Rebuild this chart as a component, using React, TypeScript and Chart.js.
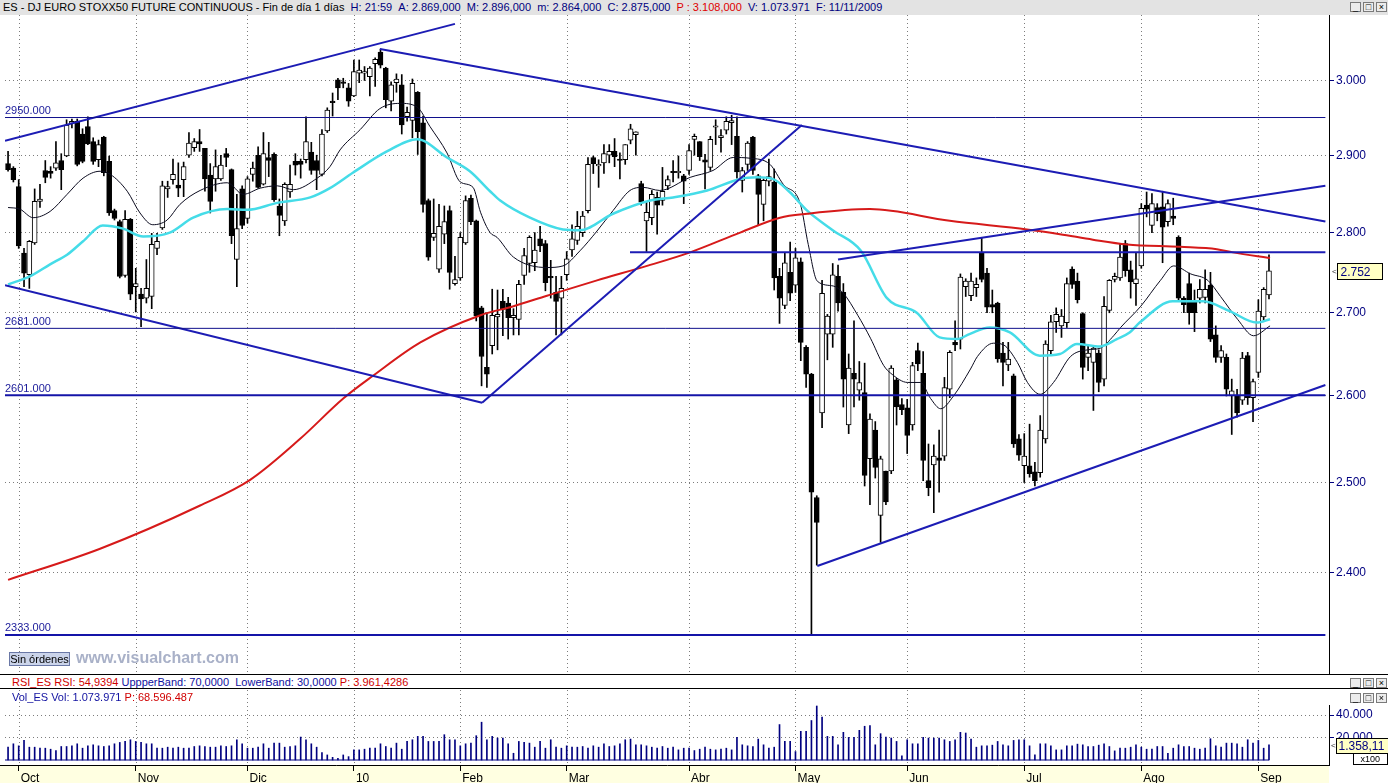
import React, { useEffect, useRef } from "react";
import { Chart, registerables } from "chart.js";

Chart.register(...registerables);
Chart.defaults.font.family = '"Liberation Sans", Arial, sans-serif';

// ---------------- DATA (daily bars 29-Sep-2009 .. 03-Sep-2010) ----------------
const opens = [
  2889, 2883,
  2859, 2774, 2747, 2787, 2840, 2880, 2879, 2883, 2893, 2899, 2942, 2945, 2928, 2938, 2918, 2894, 2924, 2892, 2828, 2814, 2746, 2817,
  2732, 2723, 2718, 2720, 2780, 2806, 2856, 2868, 2861, 2868, 2900, 2910, 2918, 2909, 2874, 2869, 2869, 2902, 2881, 2766, 2856,
  2818, 2875, 2900, 2862, 2897, 2901, 2834, 2815, 2852, 2892, 2892, 2894, 2904, 2893, 2875, 2932, 2972, 3001, 2998, 2990,
  2979, 3010, 3010, 3005, 3023, 3039, 3017, 2972, 2997, 2994, 2951, 2946, 2984, 2943, 2841, 2794, 2754, 2798, 2828, 2736,
  2743, 2787, 2844, 2815, 2706, 2634, 2660, 2695, 2714, 2712, 2694, 2692, 2746, 2761, 2762, 2792, 2786, 2745, 2725, 2718,
  2747, 2778, 2790, 2800, 2828, 2897, 2886, 2890, 2900, 2905, 2895, 2894, 2920, 2927, 2863, 2815, 2819, 2845, 2841, 2860, 2879, 2877, 2873,
  2880, 2921, 2918, 2894, 2884, 2937, 2923, 2933, 2943, 2925, 2867, 2888, 2924, 2873, 2836, 2866, 2865, 2745, 2709, 2750,
  2734, 2763, 2658, 2626, 2483, 2580, 2674, 2674, 2745, 2725, 2566, 2627, 2607, 2604, 2527, 2560, 2463, 2513, 2513, 2619, 2590,
  2586, 2566, 2654, 2627, 2502, 2520, 2528, 2530, 2608, 2664, 2668, 2732, 2721, 2731, 2774, 2749, 2710, 2712, 2651, 2637, 2624, 2550,
  2519, 2519, 2512, 2511, 2550, 2654, 2689, 2684, 2688, 2754, 2739, 2699, 2646, 2640, 2651, 2620, 2703, 2741, 2743, 2786, 2753, 2736,
  2758, 2835, 2809, 2832, 2833, 2814, 2821, 2794, 2718, 2736, 2714, 2718, 2719, 2734, 2673, 2646, 2646, 2600, 2600, 2595, 2648, 2598,
  2628, 2695, 2722,
];
const highs = [
  2905, 2885,
  2868, 2780, 2790, 2856, 2862, 2893, 2885, 2918, 2902, 2947, 2948, 2948, 2935, 2951, 2923, 2920, 2925, 2899, 2830, 2816, 2828, 2818,
  2755, 2730, 2766, 2799, 2799, 2866, 2866, 2895, 2890, 2891, 2930, 2922, 2934, 2909, 2889, 2907, 2900, 2909, 2882, 2849, 2860,
  2872, 2891, 2911, 2930, 2917, 2903, 2843, 2864, 2887, 2902, 2895, 2951, 2917, 2900, 2934, 2963, 2983, 3003, 3003, 2996,
  3028, 3028, 3019, 3019, 3031, 3043, 3018, 2998, 3009, 3008, 2964, 3002, 2985, 2952, 2843, 2843, 2836, 2834, 2834, 2770,
  2800, 2847, 2848, 2816, 2708, 2700, 2729, 2728, 2729, 2719, 2705, 2740, 2780, 2796, 2800, 2808, 2790, 2765, 2745, 2745,
  2776, 2810, 2827, 2827, 2897, 2899, 2894, 2914, 2914, 2922, 2903, 2914, 2941, 2931, 2866, 2839, 2854, 2852, 2884, 2873, 2893, 2899, 2875,
  2914, 2928, 2918, 2901, 2925, 2947, 2934, 2951, 2953, 2951, 2884, 2918, 2925, 2875, 2869, 2895, 2882, 2755, 2774, 2788,
  2780, 2768, 2660, 2627, 2485, 2740, 2698, 2761, 2759, 2736, 2650, 2690, 2641, 2639, 2579, 2570, 2530, 2513, 2636, 2621, 2597,
  2596, 2640, 2663, 2653, 2544, 2543, 2560, 2622, 2654, 2690, 2748, 2742, 2749, 2743, 2793, 2755, 2728, 2713, 2664, 2664, 2626, 2555,
  2556, 2567, 2523, 2577, 2666, 2697, 2706, 2704, 2743, 2757, 2749, 2700, 2660, 2660, 2655, 2720, 2741, 2749, 2785, 2790, 2764, 2774,
  2837, 2852, 2850, 2837, 2853, 2842, 2844, 2796, 2720, 2749, 2728, 2741, 2753, 2750, 2684, 2660, 2650, 2620, 2608, 2652, 2652, 2620,
  2716, 2731, 2772,
];
const lows = [
  2879, 2865,
  2780, 2732, 2730, 2785, 2832, 2864, 2870, 2880, 2855, 2898, 2936, 2886, 2890, 2914, 2888, 2885, 2873, 2822, 2816, 2743, 2744, 2716,
  2701, 2683, 2712, 2705, 2772, 2804, 2845, 2862, 2846, 2846, 2897, 2905, 2905, 2853, 2825, 2853, 2867, 2885, 2786, 2732, 2805,
  2812, 2866, 2857, 2861, 2872, 2840, 2796, 2809, 2845, 2874, 2870, 2890, 2875, 2855, 2873, 2930, 2952, 2974, 2990, 2965,
  2978, 2997, 3000, 2979, 2992, 3017, 2963, 2959, 2984, 2928, 2945, 2923, 2901, 2826, 2765, 2790, 2750, 2786, 2729, 2734,
  2740, 2785, 2810, 2690, 2612, 2610, 2650, 2655, 2672, 2668, 2673, 2673, 2735, 2750, 2752, 2776, 2727, 2718, 2673, 2673,
  2740, 2770, 2785, 2795, 2825, 2876, 2858, 2876, 2890, 2885, 2869, 2888, 2915, 2900, 2835, 2776, 2810, 2798, 2835, 2855, 2865, 2870, 2837,
  2875, 2900, 2893, 2856, 2880, 2914, 2904, 2928, 2914, 2870, 2852, 2880, 2875, 2810, 2815, 2860, 2728, 2687, 2705, 2715,
  2725, 2642, 2610, 2333, 2408, 2563, 2643, 2658, 2702, 2587, 2556, 2587, 2595, 2496, 2475, 2505, 2433, 2475, 2510, 2566, 2578,
  2533, 2560, 2630, 2502, 2485, 2466, 2489, 2525, 2598, 2654, 2656, 2720, 2715, 2720, 2738, 2700, 2700, 2640, 2612, 2630, 2540, 2525,
  2500, 2506, 2496, 2506, 2545, 2648, 2676, 2670, 2682, 2730, 2712, 2620, 2630, 2583, 2605, 2612, 2700, 2738, 2740, 2745, 2718, 2709,
  2755, 2820, 2800, 2815, 2762, 2808, 2810, 2715, 2700, 2686, 2677, 2712, 2712, 2665, 2640, 2640, 2600, 2555, 2575, 2590, 2590, 2570,
  2622, 2690, 2717,
];
const closes = [
  2881, 2868,
  2783, 2749, 2789, 2840, 2843, 2871, 2876, 2890, 2881, 2940, 2945, 2888, 2892, 2915, 2892, 2914, 2877, 2825, 2818, 2745, 2817, 2723,
  2736, 2717, 2730, 2785, 2789, 2860, 2859, 2875, 2857, 2885, 2916, 2918, 2915, 2869, 2840, 2885, 2887, 2897, 2796, 2805, 2809,
  2869, 2883, 2858, 2902, 2893, 2842, 2822, 2862, 2862, 2887, 2888, 2918, 2880, 2880, 2928, 2960, 2970, 2990, 2996, 2972,
  3012, 3014, 3012, 3017, 3029, 3021, 2974, 2994, 3002, 2940, 2957, 2996, 2931, 2836, 2769, 2799, 2808, 2814, 2750, 2741,
  2794, 2841, 2814, 2696, 2647, 2626, 2697, 2698, 2704, 2694, 2697, 2735, 2771, 2794, 2778, 2783, 2737, 2743, 2714, 2730,
  2767, 2792, 2808, 2821, 2888, 2889, 2888, 2902, 2905, 2898, 2893, 2914, 2935, 2931, 2839, 2826, 2849, 2835, 2853, 2868, 2877, 2879, 2866,
  2906, 2925, 2898, 2891, 2921, 2939, 2926, 2945, 2946, 2878, 2880, 2916, 2880, 2849, 2867, 2872, 2743, 2718, 2762, 2724,
  2768, 2664, 2626, 2489, 2455, 2724, 2696, 2747, 2712, 2620, 2633, 2620, 2616, 2508, 2573, 2517, 2527, 2478, 2633, 2587, 2584,
  2554, 2636, 2638, 2525, 2494, 2530, 2525, 2610, 2652, 2661, 2744, 2739, 2739, 2735, 2741, 2707, 2707, 2644, 2640, 2644, 2544, 2531,
  2530, 2510, 2502, 2560, 2662, 2689, 2698, 2696, 2736, 2735, 2716, 2634, 2651, 2657, 2616, 2708, 2740, 2745, 2769, 2752, 2738, 2742,
  2831, 2830, 2837, 2824, 2807, 2837, 2818, 2718, 2710, 2700, 2700, 2729, 2729, 2668, 2646, 2654, 2608, 2606, 2580, 2645, 2598, 2617,
  2702, 2729, 2752,
];
const volumes = [
  11400, 14400, 12600, 17400, 11400, 11400, 10500, 10500, 9600, 8400,
  12000, 12000, 12600, 14400, 10500, 12600, 13500, 12600, 12000, 12600,
  14400, 15600, 16500, 18000, 16500, 15600, 14400, 14400, 10500, 10500,
  11400, 10500, 11400, 10500, 10500, 12000, 12600, 12000, 11400, 11400,
  12600, 12000, 12600, 18000, 14400, 10500, 10500, 11400, 14400, 10500,
  15000, 15000, 11400, 12000, 12600, 20400, 18000, 14400, 11400, 6600,
  4500, 2400, 1500, 4500, 3000, 9000, 9000, 9600, 10500, 10500,
  14400, 12000, 10500, 15000, 9600, 16500, 18000, 21000, 21000, 16500,
  16500, 16500, 22500, 18000, 18000, 12600, 14400, 15000, 21600, 33600,
  18000, 21000, 19500, 19500, 14400, 6000, 16500, 15600, 15000, 11400,
  16500, 10500, 18000, 11400, 10500, 12600, 11400, 11400, 12000, 10500,
  12600, 11400, 14400, 12000, 12600, 14400, 18000, 18600, 13500, 13500,
  12600, 11400, 10500, 12000, 10500, 11400, 9000, 10500,
  10500, 8400, 9600, 11400, 9600, 9000, 9600, 10500, 9000, 20100,
  13500, 12600, 12000, 18600, 13500, 10500, 11400, 31500, 16500, 16500,
  7500, 25500, 25500, 35100, 48000, 38100, 21000, 21000, 13500, 24600,
  20100, 20100, 26400, 30000, 30600, 13500, 23400, 20400, 19500, 16500,
  3600, 18000, 14400, 14400, 20100, 19500, 19500, 19500, 18000, 16500,
  18000, 24600, 24000, 18600, 11400, 12600, 12600, 13200, 16500, 13500,
  12600, 17400, 18000, 18000, 12600, 4500, 14400, 14400, 12600, 9000,
  9000, 12600, 12600, 14100, 13500, 12000, 12000, 13200, 14400, 12000,
  8100, 10500, 10500, 11400, 13500, 11400, 9600, 9600, 12000, 12000,
  6000, 10500, 13500, 12000, 12000, 10500, 9600, 10500, 18900, 12600,
  11400, 15000, 15000, 14400, 11400, 18000, 15000, 17400, 10500, 13500,
];

// first bar index of each month and its label
const monthStarts = [2, 24, 45, 65, 85, 105, 128, 148, 169, 191, 213, 235];
const monthLabels = ["Oct", "Nov", "Dic", "10", "Feb", "Mar", "Abr", "May", "Jun", "Jul", "Ago", "Sep"];
const priceTicks = [2400, 2500, 2600, 2700, 2800, 2900, 3000];
const volTicks = [20000, 40000];

// moving averages (bar index, value)
const maSlowX = [0, 17.3, 36.1, 45.5, 54.9, 63, 68.6, 77.5, 88.8, 95, 101.3, 110.7, 120.1, 128.2, 137.6, 145.1, 150.2, 162, 177, 191.5, 197.7, 203.9, 210.3, 220.3, 227.2, 230.2, 237.2];
const maSlowY = [2392, 2426, 2474, 2503, 2550, 2597, 2624, 2664, 2697, 2708, 2721, 2740, 2758, 2775, 2800, 2819, 2824, 2830, 2815, 2804, 2798, 2791, 2785, 2782, 2779, 2775, 2768];
const maMidX = [0, 4.1, 7.9, 11.1, 14.1, 17.8, 21.6, 25.4, 30.4, 34.8, 41.2, 44.9, 50.6, 56.8, 60.5, 64.8, 71.2, 76.9, 82.5, 86.8, 90.6, 92.5, 98.1, 104.3, 107.5, 113.7, 120.7, 125, 131.4, 137.6, 140.8, 143.7, 146.9, 150.2, 155, 160.3, 165.2, 170.8, 175.1, 178.4, 180.7, 184.5, 188.3, 193.9, 197.7, 200.9, 205.2, 208.4, 210.8, 212.7, 218.9, 224.6, 229.6, 234.7, 237.2];
const maMidY = [2735, 2745, 2760, 2772, 2789, 2809, 2805, 2795, 2800, 2819, 2830, 2829, 2838, 2845, 2857, 2877, 2905, 2921, 2897, 2879, 2853, 2841, 2819, 2804, 2803, 2824, 2841, 2845, 2854, 2869, 2871, 2869, 2852, 2828, 2803, 2777, 2718, 2700, 2670, 2668, 2674, 2682, 2676, 2648, 2650, 2662, 2659, 2668, 2676, 2688, 2714, 2714, 2702, 2688, 2692];
const maFastX = [0, 2.2, 4.7, 7.9, 11.1, 14.1, 17.3, 19.2, 22.4, 24.8, 27.2, 29.9, 32.3, 36.1, 41.2, 44.2, 47.4, 50.6, 53.6, 58.1, 60.5, 62.4, 66.2, 69.9, 73.7, 76.9, 79.3, 82.5, 85, 87.4, 88.8, 90.6, 91.9, 95, 101.3, 104.3, 107.5, 110.7, 113.7, 116.9, 119.4, 122.5, 128.2, 132.5, 136.3, 139.5, 143.2, 145.7, 148.9, 150.4, 152.1, 155.1, 157, 159.7, 162.1, 164.6, 165.9, 169.1, 171.5, 173.4, 175.3, 177.7, 180.9, 182.2, 185.2, 187.1, 189.7, 191.6, 194, 196.5, 199.7, 202.9, 205.3, 207.8, 209.1, 212.9, 216.6, 219.1, 222.3, 225.5, 227.9, 231.1, 234.1, 237.2];
const maFastY = [2832, 2830, 2819, 2827, 2849, 2870, 2879, 2875, 2853, 2825, 2810, 2816, 2836, 2854, 2864, 2849, 2857, 2860, 2855, 2870, 2885, 2907, 2934, 2962, 2969, 2964, 2938, 2903, 2865, 2858, 2826, 2800, 2794, 2769, 2756, 2758, 2777, 2802, 2828, 2854, 2858, 2854, 2871, 2880, 2897, 2896, 2888, 2862, 2837, 2785, 2739, 2733, 2724, 2697, 2669, 2636, 2627, 2616, 2616, 2597, 2585, 2600, 2632, 2647, 2663, 2661, 2640, 2616, 2602, 2616, 2647, 2655, 2657, 2672, 2682, 2708, 2740, 2758, 2748, 2740, 2720, 2692, 2672, 2684];

// drawn horizontal levels and trend lines (x1 index, y1 price, x2 index, y2 price)
const levelValues = [2950, 2681, 2601, 2333];
const levelLabels = ["2950.000", "2681.000", "2601.000", "2333.000"];
const levelWidths = [1, 1, 2, 2];
const trendLines = [
  [-0.575, 2919, 84.0, 3078],
  [69.9, 3043, 247.6, 2814],
  [-0.575, 2734, 89.1, 2592],
  [89.1, 2592, 149.2, 2940],
  [116.9, 2775, 247.6, 2775],
  [156.0, 2766, 247.6, 2860],
  [152.1, 2407, 247.6, 2613],
];

// ---------------- AXIS RANGES ----------------
const X_MIN = -0.575;
const X_MAX = 248.28;
const LINE_END = 247.6;
const PRICE_MIN = 2292;
const PRICE_MAX = 3090.4;
const VOL_MIN = -4444;
const VOL_MAX = 48889;
const VOL_BOX_TEXT = "1.358,11";

const NAVY = "#000080";
const GRID = "#7c7c7c";
const TREND = "#1c1cb4";
const FONT = '"Liberation Sans", Arial, sans-serif';

const fmt = (v: number) => Math.round(v).toString().replace(/\B(?=(\d{3})+(?!\d))/g, ".");

function lineDs(points: any[], color: string, width: number, order: number, smooth = false) {
  return {
    type: "line",
    data: points,
    borderColor: color,
    borderWidth: width,
    pointRadius: 0,
    pointHoverRadius: 0,
    fill: false,
    tension: smooth ? 0.4 : 0,
    cubicInterpolationMode: smooth ? "monotone" : "default",
    order,
  };
}

// dotted vertical month separators drawn on the chart area through the x scale
function monthGrid(topOffset: number) {
  return {
    id: "monthGrid",
    beforeDatasetsDraw(chart: any) {
      const { ctx, chartArea } = chart;
      const x = chart.scales.x;
      ctx.save();
      ctx.strokeStyle = GRID;
      ctx.lineWidth = 1;
      ctx.setLineDash([1, 3]);
      monthStarts.forEach((v) => {
        const px = Math.round(x.getPixelForValue(v)) + 0.5;
        ctx.beginPath();
        ctx.moveTo(px, Math.max(0, chartArea.top - topOffset));
        ctx.lineTo(px, chartArea.bottom);
        ctx.stroke();
      });
      ctx.restore();
    },
  };
}

const mainDecor = {
  id: "mainDecor",
  afterDraw(chart: any) {
    const { ctx, chartArea } = chart;
    const y = chart.scales.y;
    ctx.save();
    ctx.font = `11px ${FONT}`;
    ctx.fillStyle = "#1a1a9a";
    ctx.textBaseline = "bottom";
    ctx.textAlign = "left";
    levelValues.forEach((v, k) => {
      ctx.fillText(levelLabels[k], chartArea.left, y.getPixelForValue(v) - 1);
    });
    // last price marker
    const last = closes[closes.length - 1];
    const py = Math.round(y.getPixelForValue(last)) + 0.5;
    const bx = chartArea.right + 8.5;
    ctx.fillStyle = "#ffffc4";
    ctx.fillRect(bx, py - 8, 45, 16);
    ctx.strokeStyle = "#000";
    ctx.lineWidth = 1;
    ctx.strokeRect(bx, py - 8, 45, 16);
    ctx.fillStyle = NAVY;
    ctx.font = `12px ${FONT}`;
    ctx.textBaseline = "middle";
    ctx.fillText(fmt(last), bx + 3, py + 1);
    ctx.font = `8px ${FONT}`;
    ctx.fillStyle = "#333";
    ctx.fillText("<", chartArea.right + 3, py);
    ctx.restore();
  },
};

const volDecor = {
  id: "volDecor",
  beforeDraw(chart: any) {
    const { ctx, chartArea } = chart;
    ctx.save();
    ctx.fillStyle = "#ffffe1";
    ctx.fillRect(0, chartArea.bottom, chartArea.right, chart.height - chartArea.bottom);
    ctx.strokeStyle = "#000";
    ctx.beginPath();
    ctx.moveTo(0, chartArea.bottom + 0.5);
    ctx.lineTo(chartArea.left, chartArea.bottom + 0.5);
    ctx.stroke();
    ctx.restore();
  },
  afterDraw(chart: any) {
    const { ctx, chartArea } = chart;
    const y = chart.scales.y;
    const last = volumes[volumes.length - 1];
    const py = Math.round(y.getPixelForValue(last)) + 0.5;
    const bx = chartArea.right + 7.5;
    ctx.save();
    ctx.fillStyle = "#ffffc4";
    ctx.fillRect(bx, py - 7, 52, 15);
    ctx.strokeStyle = "#000";
    ctx.lineWidth = 1;
    ctx.strokeRect(bx, py - 7, 52, 15);
    ctx.fillStyle = NAVY;
    ctx.font = `12px ${FONT}`;
    ctx.textBaseline = "middle";
    ctx.textAlign = "left";
    ctx.fillText(VOL_BOX_TEXT, bx + 2, py + 1);
    ctx.font = `8px ${FONT}`;
    ctx.fillStyle = "#333";
    ctx.fillText("<", chartArea.right + 2, py);
    // x100 box
    ctx.fillStyle = "#fff";
    ctx.fillRect(bx + 17, py + 8, 34, 11);
    ctx.strokeRect(bx + 17, py + 8, 34, 11);
    ctx.fillStyle = "#000";
    ctx.font = `9px ${FONT}`;
    ctx.fillText("x100", bx + 24, py + 14);
    ctx.restore();
  },
};

function MainChart() {
  const ref = useRef<HTMLCanvasElement | null>(null);
  useEffect(() => {
    const canvas = ref.current;
    if (!canvas) return;
    const idx = closes.map((_, i) => i);
    const datasets: any[] = [];
    levelValues.forEach((v, k) =>
      datasets.push(lineDs([{ x: X_MIN, y: v }, { x: LINE_END, y: v }], levelWidths[k] > 1 ? "#1414a8" : "#10108c", levelWidths[k], 0))
    );
    trendLines.forEach((t) => datasets.push(lineDs([{ x: t[0], y: t[1] }, { x: t[2], y: t[3] }], TREND, 2, 0)));
    datasets.push(lineDs(maSlowX.map((x, i) => ({ x, y: maSlowY[i] })), "#d61a1a", 2, 1, true));
    datasets.push(lineDs(maMidX.map((x, i) => ({ x, y: maMidY[i] })), "#45dce8", 2.5, 2, true));
    datasets.push(lineDs(maFastX.map((x, i) => ({ x, y: maFastY[i] })), "#0a0a1e", 1, 3, true));
    datasets.push({
      type: "bar",
      data: idx.map((i) => ({ x: i, y: [opens[i], closes[i]] })),
      backgroundColor: idx.map((i) => (closes[i] >= opens[i] ? "#ffffff" : "#000000")),
      borderColor: "#000000",
      borderWidth: 1,
      borderSkipped: false,
      barThickness: 5,
      grouped: false,
      minBarLength: 1,
      order: 8,
    });
    datasets.push({
      type: "bar",
      data: idx.map((i) => ({ x: i, y: [lows[i], highs[i]] })),
      backgroundColor: "#000000",
      borderWidth: 0,
      barThickness: 1,
      grouped: false,
      order: 9,
    });
    const chart = new Chart(canvas, {
      type: "bar",
      data: { datasets },
      options: {
        animation: false,
        responsive: false,
        maintainAspectRatio: false,
        devicePixelRatio: 1,
        events: [],
        layout: { padding: { left: 5, right: 0, top: 0, bottom: 0 } },
        plugins: { legend: { display: false }, tooltip: { enabled: false } },
        scales: {
          x: {
            type: "linear",
            min: X_MIN,
            max: X_MAX,
            offset: false,
            afterBuildTicks: (s: any) => {
              s.ticks = monthStarts.map((v) => ({ value: v }));
            },
            afterFit: (s: any) => {
              s.height = 0;
              s.paddingLeft = 0;
              s.paddingRight = 0;
            },
            ticks: { display: false },
            grid: { display: false },
            border: { display: false },
          },
          y: {
            type: "logarithmic",
            position: "right",
            min: PRICE_MIN,
            max: PRICE_MAX,
            afterBuildTicks: (s: any) => {
              s.ticks = priceTicks.map((v) => ({ value: v }));
            },
            afterFit: (s: any) => {
              s.width = 59;
              s.paddingTop = 0;
              s.paddingBottom = 0;
            },
            ticks: {
              callback: (v: any) => fmt(Number(v)),
              color: NAVY,
              font: { family: FONT, size: 12 },
              padding: 2,
              autoSkip: false,
            },
            grid: { color: GRID, tickColor: NAVY, tickLength: 5, tickBorderDash: [], drawTicks: true },
            border: { display: true, color: "#000", width: 1, dash: [1, 3] },
          },
        },
      } as any,
      plugins: [monthGrid(0), mainDecor],
    } as any);
    return () => chart.destroy();
  }, []);
  return (
    <canvas
      ref={ref}
      width={1388}
      height={659}
      style={{ position: "absolute", left: 0, top: 15, width: 1388, height: 659 }}
    />
  );
}

function VolumeChart() {
  const ref = useRef<HTMLCanvasElement | null>(null);
  useEffect(() => {
    const canvas = ref.current;
    if (!canvas) return;
    const chart = new Chart(canvas, {
      type: "bar",
      data: {
        datasets: [
          lineDs([{ x: X_MIN, y: 0 }, { x: volumes.length - 1, y: 0 }], NAVY, 1, 0),
          {
            type: "bar",
            data: volumes.map((v, i) => ({ x: i, y: v })),
            backgroundColor: NAVY,
            borderWidth: 0,
            barThickness: 1,
            grouped: false,
            order: 1,
          },
        ],
      },
      options: {
        animation: false,
        responsive: false,
        maintainAspectRatio: false,
        devicePixelRatio: 1,
        events: [],
        layout: { padding: { left: 5, right: 0, top: 16, bottom: 0 } },
        plugins: { legend: { display: false }, tooltip: { enabled: false } },
        scales: {
          x: {
            type: "linear",
            min: X_MIN,
            max: X_MAX,
            offset: false,
            afterBuildTicks: (s: any) => {
              s.ticks = monthStarts.map((v) => ({ value: v }));
            },
            afterFit: (s: any) => {
              s.height = 18;
              s.paddingLeft = 0;
              s.paddingRight = 0;
            },
            ticks: {
              callback: (_v: any, i: number) => monthLabels[i],
              align: "start",
              maxRotation: 0,
              minRotation: 0,
              autoSkip: false,
              color: "#000",
              font: { family: FONT, size: 12 },
              padding: 0,
              labelOffset: 2,
            },
            grid: { drawOnChartArea: false, color: GRID, tickColor: "#000", tickLength: 6, tickBorderDash: [], offset: false },
            border: { display: true, color: "#000", width: 1 },
          },
          y: {
            type: "linear",
            position: "right",
            min: VOL_MIN,
            max: VOL_MAX,
            afterBuildTicks: (s: any) => {
              s.ticks = volTicks.map((v) => ({ value: v }));
            },
            afterFit: (s: any) => {
              s.width = 59;
              s.paddingTop = 0;
              s.paddingBottom = 0;
            },
            ticks: {
              callback: (v: any) => fmt(Number(v)),
              color: NAVY,
              font: { family: FONT, size: 12 },
              padding: 2,
              autoSkip: false,
            },
            grid: { color: GRID, tickColor: NAVY, tickLength: 5, tickBorderDash: [] },
            border: { display: true, color: "#000", width: 1, dash: [1, 3] },
          },
        },
      } as any,
      plugins: [monthGrid(15), volDecor],
    } as any);
    return () => chart.destroy();
  }, []);
  return (
    <canvas
      ref={ref}
      width={1388}
      height={94}
      style={{ position: "absolute", left: 0, top: 689, width: 1388, height: 94 }}
    />
  );
}

function WinButtons({ top }: { top: number }) {
  const box: React.CSSProperties = {
    width: 11,
    height: 10,
    border: "1px solid #7a7a7a",
    background: "#ececec",
    fontSize: 9,
    lineHeight: "9px",
    textAlign: "center",
    color: "#000",
    boxSizing: "border-box",
    fontFamily: FONT,
  };
  return (
    <div style={{ position: "absolute", left: 1350, top, display: "flex", gap: 2 }}>
      <div style={box}>_</div>
      <div style={box}>□</div>
      <div style={box}>×</div>
    </div>
  );
}

export default function App() {
  const text11: React.CSSProperties = { fontFamily: FONT, fontSize: 11, whiteSpace: "nowrap" };
  return (
    <div
      style={{
        position: "fixed",
        left: 0,
        top: 0,
        width: 1388,
        height: 783,
        background: "#ffffff",
        overflow: "hidden",
        fontFamily: FONT,
      }}
    >
      {/* title bar */}
      <div
        style={{
          ...text11,
          position: "absolute",
          left: 0,
          top: 0,
          width: 1388,
          height: 15,
          lineHeight: "15px",
          background: "#e3e3e3",
        }}
      >
        <span style={{ marginLeft: 3, color: "#000" }}>ES - DJ EURO STOXX50 FUTURE CONTINUOUS - Fin de día 1 días</span>
        <span style={{ color: NAVY }}>&nbsp; H: 21:59 &nbsp;A: 2.869,000 &nbsp;M: 2.896,000 &nbsp;m: 2.864,000 &nbsp;C: 2.875,000 &nbsp;</span>
        <span style={{ color: "#e00000" }}>P : 3.108,000</span>
        <span style={{ color: NAVY }}>&nbsp; V: 1.073.971 &nbsp;F: 11/11/2009</span>
      </div>
      <WinButtons top={2} />

      <MainChart />

      {/* bottom-left badges */}
      <div
        style={{
          ...text11,
          position: "absolute",
          left: 9,
          top: 652,
          width: 61,
          height: 14,
          lineHeight: "12px",
          textAlign: "center",
          background: "#cbd4ea",
          border: "1px solid #6a78a6",
          boxSizing: "border-box",
          color: "#000",
        }}
      >
        Sin órdenes
      </div>
      <div
        style={{
          position: "absolute",
          left: 76,
          top: 649,
          fontFamily: FONT,
          fontWeight: "bold",
          fontSize: 16,
          color: "#a9b1c8",
          whiteSpace: "nowrap",
        }}
      >
        www.visualchart.com
      </div>

      {/* RSI header row */}
      <div
        style={{
          ...text11,
          position: "absolute",
          left: 0,
          top: 674,
          width: 1388,
          height: 15,
          lineHeight: "14px",
          borderTop: "1px solid #000",
          borderBottom: "1px solid #000",
          boxSizing: "border-box",
        }}
      >
        <span style={{ marginLeft: 12, color: "#d00000" }}>RSI_ES RSI: 54,9394 </span>
        <span style={{ color: "#1010a0" }}>UppperBand: 70,0000 &nbsp;LowerBand: 30,0000 </span>
        <span style={{ color: "#d00000" }}>P: 3.961,4286</span>
      </div>
      <WinButtons top={678} />

      <VolumeChart />

      {/* Volume header */}
      <div style={{ ...text11, position: "absolute", left: 12, top: 690, lineHeight: "14px" }}>
        <span style={{ color: "#1010a0" }}>Vol_ES Vol: 1.073.971 </span>
        <span style={{ color: "#d00000" }}>P: 68.596.487</span>
      </div>
      <WinButtons top={693} />
    </div>
  );
}
